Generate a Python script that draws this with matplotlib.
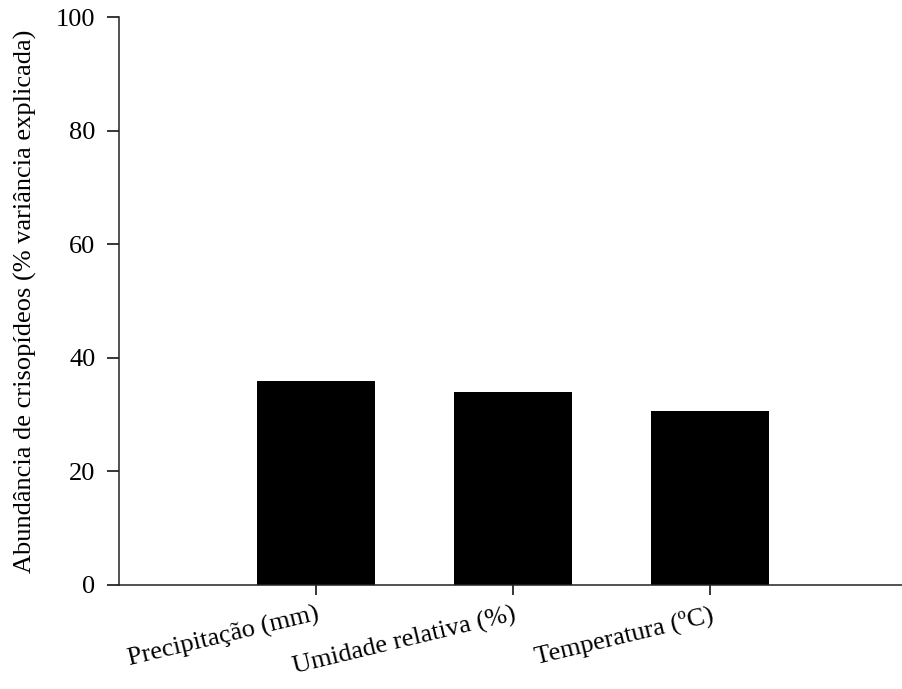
import matplotlib.pyplot as plt

plt.rcParams['font.family'] = ['Liberation Serif', 'DejaVu Serif']

categories = ['Precipitação (mm)', 'Umidade relativa (%)', 'Temperatura (ºC)']
variance = [35.9, 33.9, 30.6]
yticks = [0, 20, 40, 60, 80, 100]

fig = plt.figure(figsize=(9.02, 6.89), dpi=100)
# axis line runs off the right edge of the figure
ax = fig.add_axes([0.132, 0.151, 0.874, 0.824])

positions = [1, 2, 3]
ax.bar(positions, variance, width=0.6, color='black', edgecolor='none')

ax.set_xlim(0, 4)
ax.set_ylim(0, 100)
ax.set_yticks(yticks)
ax.set_xticks(positions)
ax.set_xticklabels(categories, rotation=13.5, ha='right', va='top',
                   rotation_mode='anchor', fontsize=19)
ax.tick_params(axis='y', direction='out', length=9, width=1.1, labelsize=19, pad=8)
ax.tick_params(axis='x', direction='out', length=7, width=1.1, pad=6)

ax.set_ylabel('Abundância de crisopídeos (% variância explicada)', fontsize=19, labelpad=14)

for side in ['top', 'right']:
    ax.spines[side].set_visible(False)
for side in ['left', 'bottom']:
    ax.spines[side].set_linewidth(1.1)
    ax.spines[side].set_color('#222222')

fig.savefig('out.png', dpi=100, facecolor='white')
